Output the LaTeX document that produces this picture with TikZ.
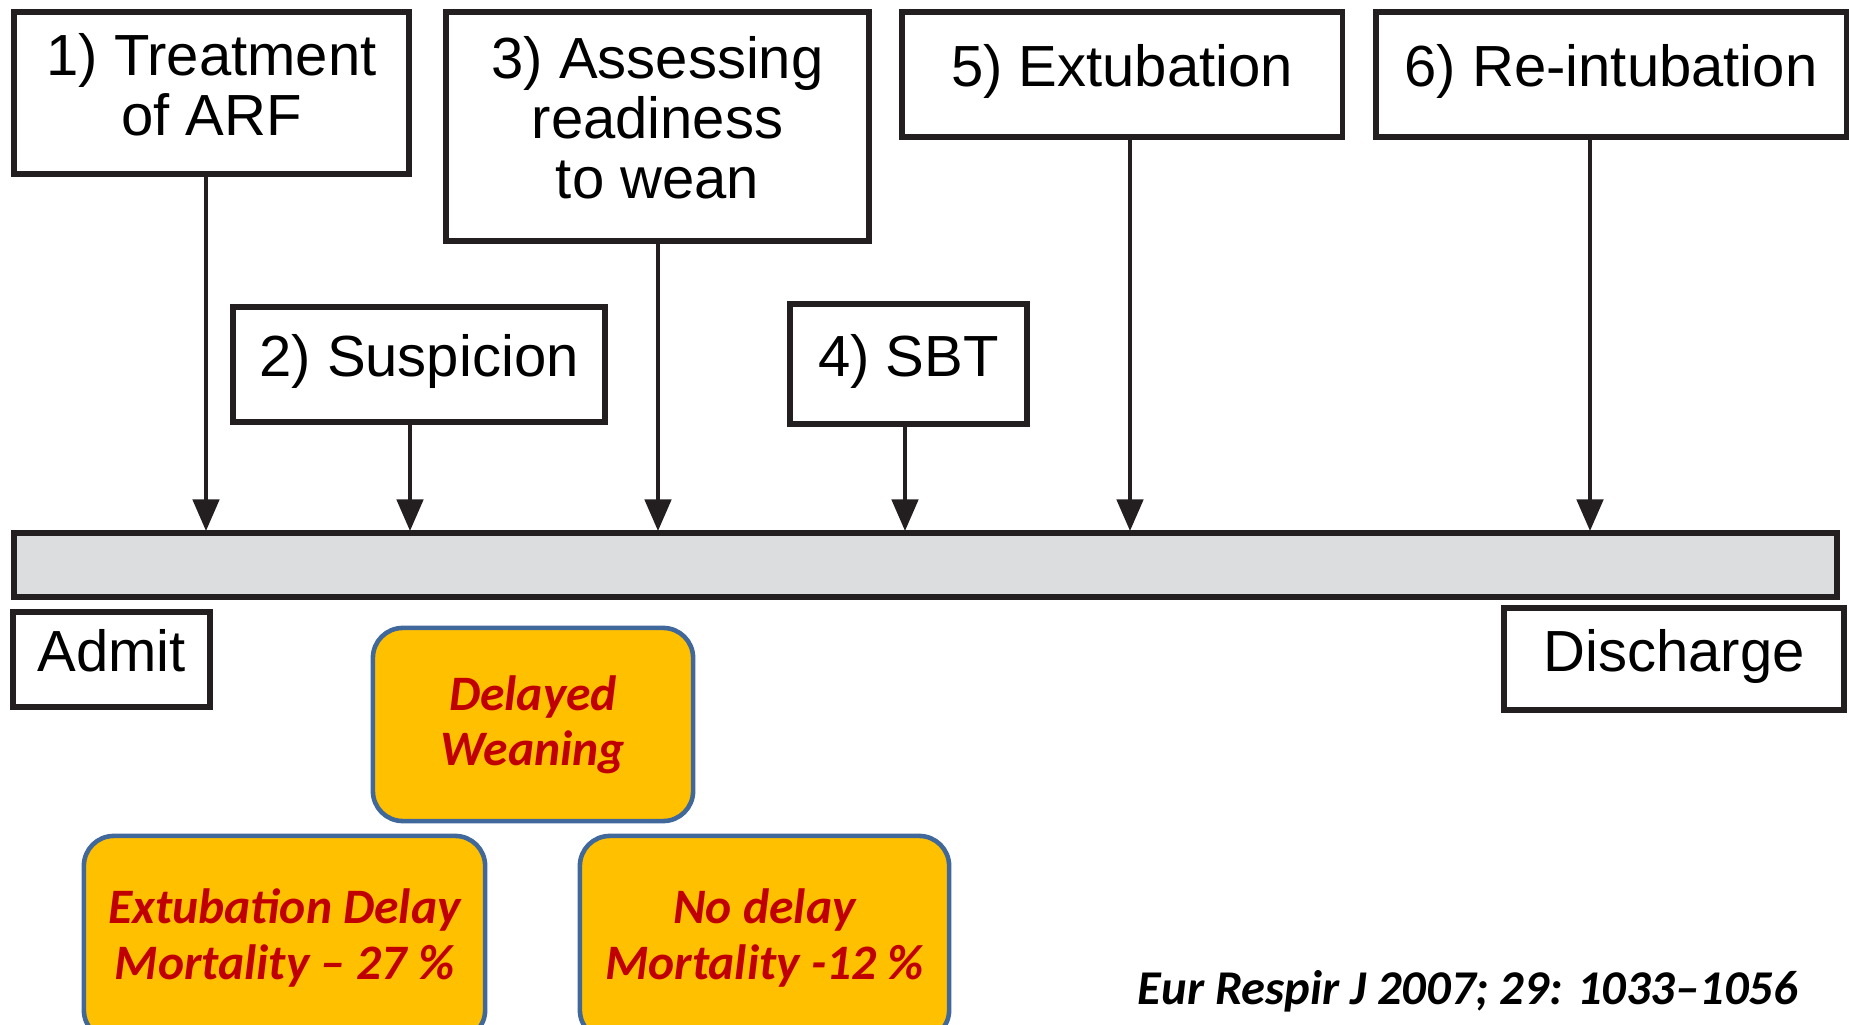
\documentclass[tikz,border=0pt]{standalone}
\usepackage{fontspec}
\setmainfont{Liberation Sans}
\newfontfamily\calibri[Ligatures=TeX]{Carlito}
\usetikzlibrary{arrows.meta,
                positioning,
                shapes.geometric}
\definecolor{ink}{HTML}{231F20}
\definecolor{bargray}{HTML}{DCDDDE}
\definecolor{gold}{HTML}{FFC000}
\definecolor{darkred}{HTML}{C00000}
\definecolor{slateblue}{HTML}{41689A}
\tikzset{
       arr/.style = {-{Triangle[length=9pt,width=7.5pt]}, line width=1.1pt, draw=ink},  % <--- arrow heads
      base/.style = {draw=ink, line width=1.5pt, inner sep=0pt, text depth=5pt,
                     font=\fontsize{16.5}{17}\selectfont, align=center},
     event/.style = {base, rectangle},
  timeline/.style = {draw=ink, line width=1.7pt, fill=bargray, inner sep=0pt},
   outcome/.style = {draw=slateblue, line width=1.3pt, fill=gold, rounded corners=8.5pt,
                     inner sep=0pt, text=darkred, align=center,
                     font=\calibri\bfseries\itshape\fontsize{14.1}{15.7}\selectfont},
        }

\begin{document}
\begin{tikzpicture}[x=0.01cm, y=-0.01cm]
  \useasboundingbox (0,0) rectangle (1849,1025);
  \clip (0,0) rectangle (1849,1025);

  % steps above the time line
  \node[event, minimum width=3.95cm, minimum height=1.62cm] (e1) at (211.5,93)   {1) Treatment\\of ARF};
  \node[event, minimum width=3.72cm, minimum height=1.15cm] (e2) at (419,364.5)  {2) Suspicion};
  \node[event, minimum width=4.23cm, minimum height=2.29cm] (e3) at (657.5,126.5) {3) Assessing\\readiness\\to wean};
  \node[event, minimum width=2.37cm, minimum height=1.20cm] (e4) at (908.5,364)  {4) SBT};
  \node[event, minimum width=4.40cm, minimum height=1.25cm] (e5) at (1122,74.5)  {5) Extubation};
  \node[event, minimum width=4.70cm, minimum height=1.25cm] (e6) at (1611,74.5)  {6) Re-intubation};

  % time line
  \node[timeline, minimum width=18.21cm, minimum height=0.64cm] (T) at (925.5,565) {};
  \node[event, minimum width=1.97cm, minimum height=0.95cm] (admit) at (111.5,659.5) {Admit};
  \node[event, minimum width=3.40cm, minimum height=1.02cm] (disch) at (1674,659) {Discharge};

  % arrow ends on the bar
  \coordinate (t1) at (206,531);
  \coordinate (t2) at (410,531);
  \coordinate (t3) at (658,531);
  \coordinate (t4) at (905,531);
  \coordinate (t5) at (1130,531);
  \coordinate (t6) at (1590,531);
  \foreach \i in {1,...,6}
    \draw[arr] (t\i |- e\i.south) -- (t\i);

  % outcomes
  \node[outcome, minimum width=3.20cm, minimum height=1.93cm] (dw) at (533,724.5) {Delayed\\Weaning};
  \node[outcome, minimum width=4.01cm, minimum height=2.04cm] (xd) at (284.5,938) {Extubation Delay\\Mortality – 27 \%};
  \node[outcome, minimum width=3.69cm, minimum height=2.04cm] (nd) at (764.5,938) {No delay\\Mortality -12 \%};

  \node[anchor=base, font=\calibri\bfseries\itshape\fontsize{13.8}{15}\selectfont] (ref) at (1468,1004)
       {Eur Respir J 2007; 29: 1033–1056};
\end{tikzpicture}
\end{document}
